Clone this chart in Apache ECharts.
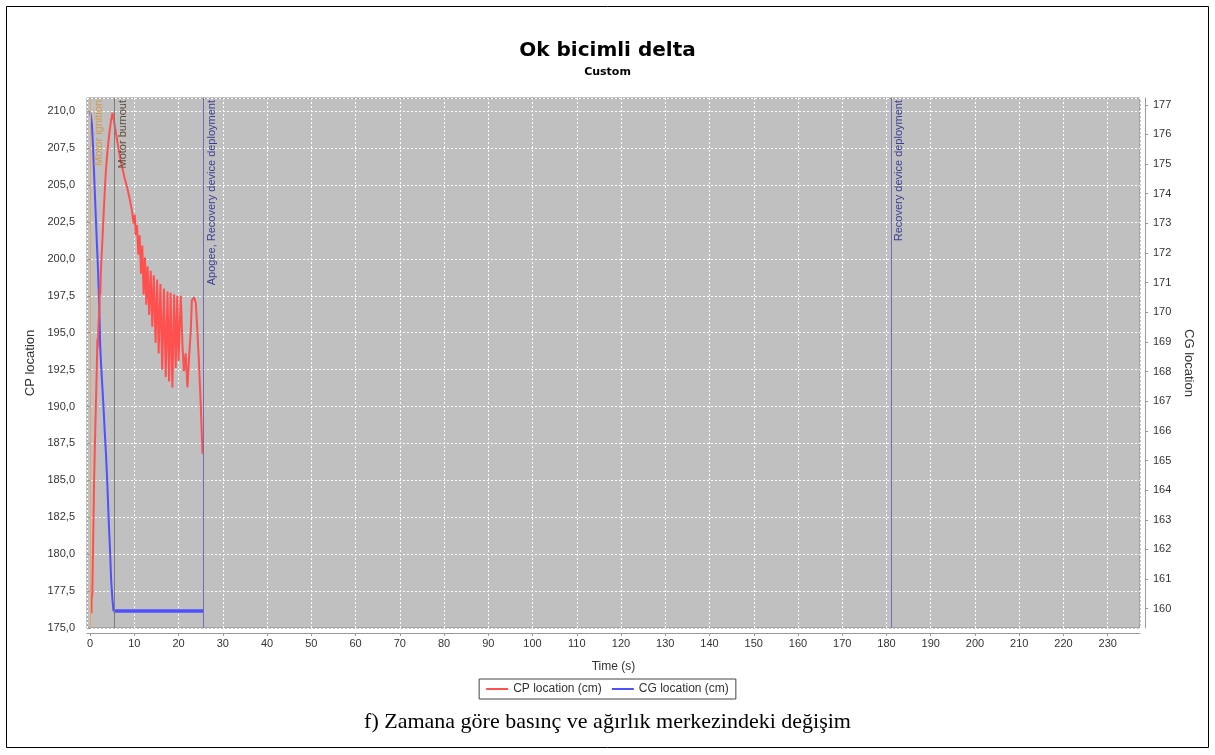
<!DOCTYPE html>
<html>
<head>
<meta charset="utf-8">
<script src="https://cdn.jsdelivr.net/npm/echarts@6/dist/echarts.min.js"></script>
<style>
  html, body { margin: 0; background: #fff; }
  #main { width: 1215px; height: 755px; }
</style>
</head>
<body>
<div id="main"></div>
<script>
// CP location (cm) over time (s)
const cpTime = [0.3, 0.35, 0.5, 0.7, 0.9, 1.1, 1.3, 1.5, 1.65, 1.75, 1.9, 2.1, 2.2, 2.3, 2.45, 2.8, 3.15, 3.55, 3.9, 4.3,
  4.7, 5.05, 5.3, 5.8, 6.4, 6.95, 7.7, 8.4, 9.0, 9.5, 9.8, 10.1, 10.3, 10.6, 10.9, 11.2, 11.5, 11.8, 12.1, 12.4,
  12.7, 13.0, 13.35, 13.7, 14.05, 14.4, 14.8, 15.15, 15.5, 15.9, 16.3, 16.7, 17.1, 17.5, 17.85, 18.2, 18.6, 19.0, 19.35, 19.7,
  20.0, 20.5, 20.9, 21.2, 21.6, 22.0, 22.4, 22.75, 23.0, 23.5, 23.9, 24.25, 24.6, 25.0, 25.2, 25.4]
const cpValue = [176.0, 177.0, 177.3, 181.0, 184.9, 187.6, 190.0, 192.4, 194.6, 194.0, 195.6, 196.5, 198.0, 197.6, 199.3, 201.4, 203.6, 205.9, 207.2, 208.4,
  209.3, 209.9, 209.5, 208.6, 207.5, 206.6, 205.6, 204.8, 204.0, 203.2, 202.4, 203.0, 201.6, 202.3, 200.3, 201.6, 199.0, 200.9, 197.6, 200.1,
  196.9, 199.5, 196.2, 199.2, 195.4, 198.9, 194.3, 198.6, 193.6, 198.3, 192.5, 198.0, 192.0, 197.8, 191.7, 197.7, 191.3, 197.6, 192.6, 197.5,
  193.1, 197.5, 194.0, 192.4, 193.6, 191.3, 193.5, 195.1, 197.2, 197.4, 197.0, 195.1, 193.0, 190.2, 188.5, 186.8]

// CG location (cm) over time (s)
const cgTime = [0, 0.15, 0.4, 0.6, 0.9, 1.2, 1.5, 1.8, 2.05, 2.3, 2.55, 3.0, 3.3, 3.6, 3.9, 4.2, 4.5, 4.75, 5.05, 5.3, 25.6]
const cgValue = [176.75, 176.65, 176.35, 175.8, 174.7, 173.55, 172.45, 171.4, 170.3, 168.8, 168.05, 166.9, 166.0, 165.2, 164.2, 163.0, 162.0, 161.0, 160.3, 159.92, 159.92]

// flight events
const eventTimes = [0, 5.42, 25.6, 181]
const eventNames = ['Motor ignition', 'Motor burnout', 'Apogee, Recovery device deployment', 'Recovery device deployment']

const seriesNames = ['CP location (cm)', 'CG location (cm)']

const eventLine = ['#e0a860', '#7c7c7c', '#7070b0', '#7070b0']
const eventText = ['#d49a4c', '#5c4c3c', '#3c3c96', '#3c3c96']

const cpData = cpTime.map((t, i) => [t, cpValue[i]])
const cgData = cgTime.map((t, i) => [t, cgValue[i]])
const cgDrop = cgData.slice(0, cgData.length - 1)
const cgFlat = cgData.slice(cgData.length - 2)

const fmtComma = v => v.toFixed(1).replace('.', ',')
const labelFont = { fontFamily: 'Liberation Sans', fontSize: 11, color: '#333' }

const chart = echarts.init(document.getElementById('main'))

chart.setOption({
  backgroundColor: '#fff',
  animation: false,
  title: {
    text: 'Ok bicimli delta',
    subtext: 'Custom',
    left: 'center',
    top: 36,
    itemGap: 6,
    textStyle: { fontFamily: 'DejaVu Sans', fontWeight: 'bold', fontSize: 20, color: '#000' },
    subtextStyle: { fontFamily: 'DejaVu Sans', fontWeight: 'bold', fontSize: 11, color: '#000' }
  },
  legend: {
    data: seriesNames,
    left: 'center',
    top: 679,
    borderColor: '#444',
    borderWidth: 1,
    borderRadius: 0,
    padding: [4, 7],
    itemGap: 10,
    itemWidth: 22,
    itemHeight: 2,
    icon: 'rect',
    textStyle: { fontFamily: 'Liberation Sans', fontSize: 12, color: '#333' }
  },
  grid: { left: 87, right: 75, top: 98, bottom: 127, show: true, backgroundColor: '#c0c0c0', borderColor: '#8a8a8a', borderWidth: 1 },
  xAxis: {
    type: 'value',
    min: -0.7,
    max: 237.3,
    splitNumber: 24,
    offset: 5,
    name: 'Time (s)',
    nameLocation: 'middle',
    nameGap: 28,
    nameTextStyle: { fontFamily: 'Liberation Sans', fontSize: 12, color: '#333' },
    axisLine: { show: true, lineStyle: { color: '#999' } },
    axisTick: { show: true, length: 3, lineStyle: { color: '#999' } },
    axisLabel: Object.assign({ margin: 5, showMinLabel: false, showMaxLabel: false }, labelFont),
    splitLine: { show: true, lineStyle: { color: '#fff', type: [2, 2], width: 1 } }
  },
  yAxis: [
    {
      type: 'value',
      min: 175,
      max: 210.9,
      interval: 2.5,
      offset: 4,
      alignTicks: false,
      name: 'CP location',
      nameLocation: 'middle',
      nameRotate: 90,
      nameGap: 44,
      nameTextStyle: { fontFamily: 'Liberation Sans', fontSize: 13, color: '#333' },
      axisLine: { show: true, lineStyle: { color: '#999' } },
      axisTick: { show: true, length: 3, lineStyle: { color: '#999' } },
      axisLabel: Object.assign({ margin: 8, showMaxLabel: false, formatter: fmtComma }, labelFont),
      splitLine: { show: true, lineStyle: { color: '#fff', type: [2, 2], width: 1 } }
    },
    {
      type: 'value',
      position: 'right',
      min: 159.35,
      max: 177.23,
      splitNumber: 18,
      offset: 5,
      alignTicks: false,
      name: 'CG location',
      nameLocation: 'middle',
      nameRotate: -90,
      nameGap: 36,
      nameTextStyle: { fontFamily: 'Liberation Sans', fontSize: 13, color: '#333' },
      axisLine: { show: true, lineStyle: { color: '#999' } },
      axisTick: { show: true, length: 3, lineStyle: { color: '#999' } },
      axisLabel: Object.assign({ margin: 8, showMinLabel: false, showMaxLabel: false }, labelFont),
      splitLine: { show: false }
    }
  ],
  series: [
    {
      name: seriesNames[0],
      type: 'line',
      yAxisIndex: 0,
      data: cpData,
      showSymbol: false,
      lineStyle: { color: '#ff5050', width: 2 },
      itemStyle: { color: '#ff5050' },
      z: 3,
      markLine: {
        silent: true,
        symbol: 'none',
        data: eventTimes.map((t, i) => ({
          xAxis: t,
          lineStyle: { color: eventLine[i], width: 1, type: 'solid' },
          label: {
            show: true,
            formatter: eventNames[i],
            position: 'insideEndBottom',
            distance: [2, 3],
            color: eventText[i],
            fontFamily: 'Liberation Sans',
            fontSize: 11
          }
        }))
      }
    },
    {
      name: seriesNames[1],
      type: 'line',
      yAxisIndex: 1,
      data: cgDrop,
      showSymbol: false,
      lineStyle: { color: '#5050ff', width: 2 },
      itemStyle: { color: '#5050ff' },
      z: 2
    },
    {
      name: seriesNames[1],
      type: 'line',
      yAxisIndex: 1,
      data: cgFlat,
      showSymbol: false,
      lineStyle: { color: '#5050ff', width: 3.5 },
      itemStyle: { color: '#5050ff' },
      z: 2
    }
  ],
  graphic: [
    {
      type: 'rect',
      silent: true,
      shape: { x: 6.5, y: 6.5, width: 1202, height: 741 },
      style: { fill: 'none', stroke: '#000', lineWidth: 1 }
    },
    {
      type: 'text',
      left: 'center',
      top: 711,
      silent: true,
      style: {
        text: 'f) Zamana göre basınç ve ağırlık merkezindeki değişim',
        font: '22px "Liberation Serif"',
        fill: '#000'
      }
    }
  ]
})
</script>
</body>
</html>
